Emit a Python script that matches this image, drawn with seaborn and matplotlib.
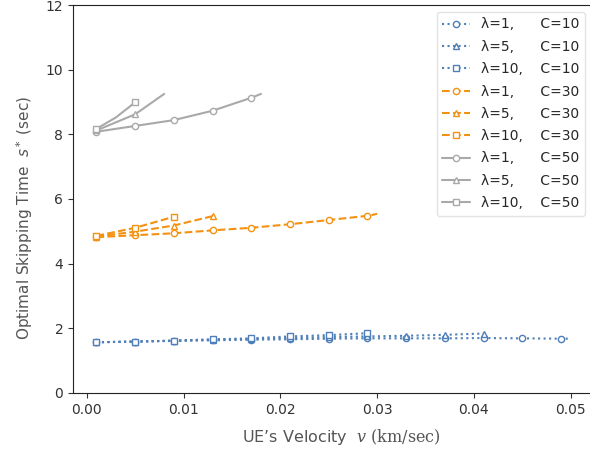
import numpy as np
import pandas as pd
import seaborn as sns
import matplotlib
matplotlib.use("Agg")
import matplotlib.pyplot as plt

# ---- data ----
# C = 10
v_l1_c10 = [0.001, 0.005, 0.009, 0.013, 0.017, 0.021, 0.025, 0.029, 0.033, 0.037, 0.041, 0.045, 0.049, 0.050]
s_l1_c10 = [1.57, 1.59, 1.61, 1.63, 1.65, 1.66, 1.68, 1.69, 1.69, 1.69, 1.70, 1.69, 1.68, 1.68]
v_l5_c10 = [0.001, 0.005, 0.009, 0.013, 0.017, 0.021, 0.025, 0.029, 0.033, 0.037, 0.041]
s_l5_c10 = [1.57, 1.59, 1.62, 1.65, 1.67, 1.70, 1.73, 1.75, 1.77, 1.80, 1.84]
v_l10_c10 = [0.001, 0.005, 0.009, 0.013, 0.017, 0.021, 0.025, 0.029]
s_l10_c10 = [1.57, 1.59, 1.62, 1.66, 1.69, 1.75, 1.79, 1.85]
# C = 30
v_l1_c30 = [0.001, 0.005, 0.009, 0.013, 0.017, 0.021, 0.025, 0.029, 0.030]
s_l1_c30 = [4.82, 4.88, 4.94, 5.03, 5.11, 5.22, 5.35, 5.48, 5.54]
v_l5_c30 = [0.001, 0.005, 0.009, 0.013]
s_l5_c30 = [4.84, 4.99, 5.18, 5.47]
v_l10_c30 = [0.001, 0.005, 0.009]
s_l10_c30 = [4.86, 5.11, 5.45]
# C = 50
v_l1_c50 = [0.001, 0.005, 0.009, 0.013, 0.017, 0.018]
s_l1_c50 = [8.08, 8.26, 8.44, 8.73, 9.13, 9.25]
v_l5_c50 = [0.001, 0.005, 0.008]
s_l5_c50 = [8.12, 8.62, 9.25]
v_l10_c50 = [0.001, 0.003, 0.005]
s_l10_c50 = [8.17, 8.52, 8.99]

x_ticks = [0.00, 0.01, 0.02, 0.03, 0.04, 0.05]
y_ticks = [0, 2, 4, 6, 8, 10, 12]

series = [
    ("λ=1,      C=10", v_l1_c10, s_l1_c10, "C10", "o"),
    ("λ=5,      C=10", v_l5_c10, s_l5_c10, "C10", "^"),
    ("λ=10,    C=10", v_l10_c10, s_l10_c10, "C10", "s"),
    ("λ=1,      C=30", v_l1_c30, s_l1_c30, "C30", "o"),
    ("λ=5,      C=30", v_l5_c30, s_l5_c30, "C30", "^"),
    ("λ=10,    C=30", v_l10_c30, s_l10_c30, "C30", "s"),
    ("λ=1,      C=50", v_l1_c50, s_l1_c50, "C50", "o"),
    ("λ=5,      C=50", v_l5_c50, s_l5_c50, "C50", "^"),
    ("λ=10,    C=50", v_l10_c50, s_l10_c50, "C50", "s"),
]

styles = {
    "C10": dict(color="#4f7fb8", linestyle=":"),
    "C30": dict(color="#f39212", linestyle="--"),
    "C50": dict(color="#a9a9a9", linestyle="-"),
}

sns.set_style("ticks")
plt.rcParams["font.family"] = ["DejaVu Sans"]
plt.rcParams["mathtext.fontset"] = "custom"
plt.rcParams["mathtext.rm"] = "DejaVu Serif"
plt.rcParams["mathtext.it"] = "DejaVu Serif:italic"
plt.rcParams["mathtext.sf"] = "DejaVu Sans:italic"

fig = plt.figure(figsize=(5.90, 4.57), dpi=100)
ax = fig.add_axes([73 / 590, 64 / 457, 519 / 590, 388 / 457])

for label, v, s, grp, mk in series:
    st = styles[grp]
    mev = [i for i, x in enumerate(v)
           if abs((x - 0.001) / 0.004 - round((x - 0.001) / 0.004)) < 1e-6]
    df = pd.DataFrame({"v": v, "s": s})
    sns.lineplot(data=df, x="v", y="s", ax=ax, label=label,
                 color=st["color"], linestyle=st["linestyle"], linewidth=1.5,
                 marker=mk, markevery=mev, markersize=4.5,
                 markerfacecolor="white", markeredgecolor=st["color"],
                 markeredgewidth=1.0)

ax.set_xlim(-0.00142, 0.0522)
ax.set_ylim(0, 12)
ax.set_xticks(x_ticks)
ax.set_xticklabels([f"{t:.2f}" for t in x_ticks])
ax.set_yticks(y_ticks)
ax.tick_params(labelsize=10, colors="#333333")
for sp in ax.spines.values():
    sp.set_color("#222222")
ax.spines["right"].set_visible(False)

ax.set_xlabel(r"UE’s Velocity  $v\ \mathrm{(km/sec)}$", fontsize=11.5,
              color="#555555")
ax.set_ylabel(r"Optimal Skipping Time  $\mathsf{s}^*$ (sec)", fontsize=11,
              color="#555555")
ax.xaxis.set_label_coords(0.518, -0.088)
ax.yaxis.set_label_coords(-0.074, 0.45)

leg = ax.legend(loc="upper right", fontsize=10, labelspacing=0.6, frameon=True)
leg.get_frame().set_edgecolor("#dddddd")

fig.savefig("out.png", dpi=100)
